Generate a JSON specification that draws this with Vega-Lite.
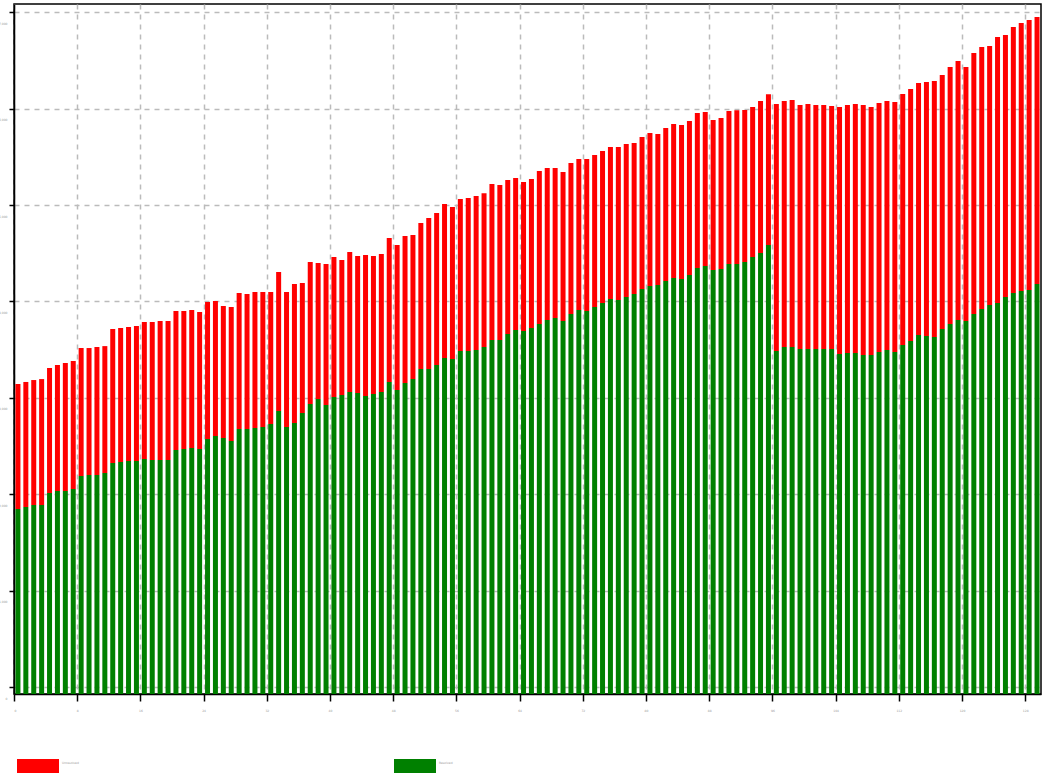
{
  "$schema": "https://vega.github.io/schema/vega-lite/v6.json",
  "autosize": "none",
  "width": 1027,
  "height": 690,
  "padding": {"left": 14, "top": 4, "right": 1, "bottom": 83},
  "background": "white",
  "config": {
    "view": {"stroke": "black", "strokeWidth": 1.5},
    "font": "DejaVu Sans"
  },
  "data": {
    "values": [
      {"i":0,"Resolved":1919,"Unresolved":1297},{"i":1,"Resolved":1940,"Unresolved":1297},{"i":2,"Resolved":1960,"Unresolved":1297},{"i":3,"Resolved":1960,"Unresolved":1307},
      {"i":4,"Resolved":2085,"Unresolved":1297},{"i":5,"Resolved":2106,"Unresolved":1307},{"i":6,"Resolved":2106,"Unresolved":1328},{"i":7,"Resolved":2126,"Unresolved":1328},
      {"i":8,"Resolved":2261,"Unresolved":1328},{"i":9,"Resolved":2272,"Unresolved":1317},{"i":10,"Resolved":2272,"Unresolved":1328},{"i":11,"Resolved":2292,"Unresolved":1317},
      {"i":12,"Resolved":2396,"Unresolved":1390},{"i":13,"Resolved":2407,"Unresolved":1390},{"i":14,"Resolved":2417,"Unresolved":1390},{"i":15,"Resolved":2417,"Unresolved":1400},
      {"i":16,"Resolved":2438,"Unresolved":1421},{"i":17,"Resolved":2427,"Unresolved":1431},{"i":18,"Resolved":2427,"Unresolved":1442},{"i":19,"Resolved":2427,"Unresolved":1442},
      {"i":20,"Resolved":2531,"Unresolved":1442},{"i":21,"Resolved":2541,"Unresolved":1431},{"i":22,"Resolved":2552,"Unresolved":1431},{"i":23,"Resolved":2541,"Unresolved":1421},
      {"i":24,"Resolved":2645,"Unresolved":1421},{"i":25,"Resolved":2676,"Unresolved":1400},{"i":26,"Resolved":2655,"Unresolved":1369},{"i":27,"Resolved":2624,"Unresolved":1390},
      {"i":28,"Resolved":2749,"Unresolved":1411},{"i":29,"Resolved":2749,"Unresolved":1400},{"i":30,"Resolved":2759,"Unresolved":1411},{"i":31,"Resolved":2770,"Unresolved":1400},
      {"i":32,"Resolved":2801,"Unresolved":1369},{"i":33,"Resolved":2936,"Unresolved":1442},{"i":34,"Resolved":2770,"Unresolved":1400},{"i":35,"Resolved":2811,"Unresolved":1442},
      {"i":36,"Resolved":2915,"Unresolved":1348},{"i":37,"Resolved":3008,"Unresolved":1473},{"i":38,"Resolved":3060,"Unresolved":1411},{"i":39,"Resolved":2998,"Unresolved":1463},
      {"i":40,"Resolved":3081,"Unresolved":1452},{"i":41,"Resolved":3102,"Unresolved":1400},{"i":42,"Resolved":3133,"Unresolved":1452},{"i":43,"Resolved":3122,"Unresolved":1421},
      {"i":44,"Resolved":3091,"Unresolved":1463},{"i":45,"Resolved":3112,"Unresolved":1431},{"i":46,"Resolved":3133,"Unresolved":1431},{"i":47,"Resolved":3236,"Unresolved":1494},
      {"i":48,"Resolved":3153,"Unresolved":1504},{"i":49,"Resolved":3226,"Unresolved":1525},{"i":50,"Resolved":3267,"Unresolved":1494},{"i":51,"Resolved":3371,"Unresolved":1514},
      {"i":52,"Resolved":3371,"Unresolved":1566},{"i":53,"Resolved":3413,"Unresolved":1577},{"i":54,"Resolved":3485,"Unresolved":1597},{"i":55,"Resolved":3475,"Unresolved":1577},
      {"i":56,"Resolved":3558,"Unresolved":1577},{"i":57,"Resolved":3558,"Unresolved":1587},{"i":58,"Resolved":3568,"Unresolved":1597},{"i":59,"Resolved":3599,"Unresolved":1597},
      {"i":60,"Resolved":3672,"Unresolved":1618},{"i":61,"Resolved":3672,"Unresolved":1608},{"i":62,"Resolved":3734,"Unresolved":1597},{"i":63,"Resolved":3776,"Unresolved":1577},
      {"i":64,"Resolved":3765,"Unresolved":1546},{"i":65,"Resolved":3797,"Unresolved":1546},{"i":66,"Resolved":3838,"Unresolved":1587},{"i":67,"Resolved":3880,"Unresolved":1577},
      {"i":68,"Resolved":3900,"Unresolved":1556},{"i":69,"Resolved":3869,"Unresolved":1546},{"i":70,"Resolved":3942,"Unresolved":1566},{"i":71,"Resolved":3983,"Unresolved":1566},
      {"i":72,"Resolved":3973,"Unresolved":1577},{"i":73,"Resolved":4014,"Unresolved":1577},{"i":74,"Resolved":4056,"Unresolved":1577},{"i":75,"Resolved":4097,"Unresolved":1577},
      {"i":76,"Resolved":4087,"Unresolved":1587},{"i":77,"Resolved":4118,"Unresolved":1587},{"i":78,"Resolved":4149,"Unresolved":1566},{"i":79,"Resolved":4201,"Unresolved":1577},
      {"i":80,"Resolved":4232,"Unresolved":1587},{"i":81,"Resolved":4243,"Unresolved":1566},{"i":82,"Resolved":4284,"Unresolved":1587},{"i":83,"Resolved":4315,"Unresolved":1597},
      {"i":84,"Resolved":4305,"Unresolved":1597},{"i":85,"Resolved":4346,"Unresolved":1597},{"i":86,"Resolved":4419,"Unresolved":1608},{"i":87,"Resolved":4440,"Unresolved":1597},
      {"i":88,"Resolved":4398,"Unresolved":1556},{"i":89,"Resolved":4409,"Unresolved":1566},{"i":90,"Resolved":4460,"Unresolved":1587},{"i":91,"Resolved":4460,"Unresolved":1597},
      {"i":92,"Resolved":4481,"Unresolved":1577},{"i":93,"Resolved":4533,"Unresolved":1556},{"i":94,"Resolved":4574,"Unresolved":1577},{"i":95,"Resolved":4657,"Unresolved":1566},
      {"i":96,"Resolved":3558,"Unresolved":2562},{"i":97,"Resolved":3599,"Unresolved":2552},{"i":98,"Resolved":3599,"Unresolved":2562},{"i":99,"Resolved":3579,"Unresolved":2531},
      {"i":100,"Resolved":3579,"Unresolved":2541},{"i":101,"Resolved":3579,"Unresolved":2531},{"i":102,"Resolved":3579,"Unresolved":2531},{"i":103,"Resolved":3579,"Unresolved":2521},
      {"i":104,"Resolved":3527,"Unresolved":2562},{"i":105,"Resolved":3537,"Unresolved":2573},{"i":106,"Resolved":3537,"Unresolved":2583},{"i":107,"Resolved":3516,"Unresolved":2593},
      {"i":108,"Resolved":3516,"Unresolved":2573},{"i":109,"Resolved":3548,"Unresolved":2583},{"i":110,"Resolved":3568,"Unresolved":2583},{"i":111,"Resolved":3548,"Unresolved":2593},
      {"i":112,"Resolved":3620,"Unresolved":2604},{"i":113,"Resolved":3662,"Unresolved":2614},{"i":114,"Resolved":3724,"Unresolved":2614},{"i":115,"Resolved":3714,"Unresolved":2635},
      {"i":116,"Resolved":3703,"Unresolved":2655},{"i":117,"Resolved":3786,"Unresolved":2635},{"i":118,"Resolved":3838,"Unresolved":2666},{"i":119,"Resolved":3880,"Unresolved":2687},
      {"i":120,"Resolved":3869,"Unresolved":2635},{"i":121,"Resolved":3942,"Unresolved":2707},{"i":122,"Resolved":3994,"Unresolved":2718},{"i":123,"Resolved":4035,"Unresolved":2687},
      {"i":124,"Resolved":4056,"Unresolved":2759},{"i":125,"Resolved":4118,"Unresolved":2718},{"i":126,"Resolved":4160,"Unresolved":2759},{"i":127,"Resolved":4180,"Unresolved":2780},
      {"i":128,"Resolved":4191,"Unresolved":2801},{"i":129,"Resolved":4253,"Unresolved":2770}
    ]
  },
  "transform": [
    {"fold": ["Unresolved", "Resolved"], "as": ["series", "count"]}
  ],
  "mark": {"type": "bar", "size": 5, "xOffset": 3.94},
  "encoding": {
    "x": {
      "field": "i",
      "type": "quantitative",
      "scale": {"domain": [0, 130], "nice": false, "zero": false, "padding": 0},
      "axis": {
        "title": null,
        "values": [0, 8, 16, 24, 32, 40, 48, 56, 64, 72, 80, 88, 96, 104, 112, 120, 128],
        "domainColor": "black",
        "domainWidth": 1.5,
        "tickColor": "black",
        "tickWidth": 1.5,
        "tickSize": 7,
        "labelFontSize": 3,
        "labelColor": "#999999",
        "labelPadding": 8,
        "grid": true,
        "gridColor": "#bbbbbb",
        "gridWidth": 1.5,
        "gridDash": [5, 5]
      }
    },
    "y": {
      "field": "count",
      "type": "quantitative",
      "stack": "zero",
      "scale": {"domain": [0, 7158], "nice": false, "zero": true},
      "axis": {
        "title": null,
        "values": [73, 1073, 2073, 3073, 4073, 5073, 6073, 7073],
        "labelExpr": "format(round(datum.value / 1000) * 1000, ',')",
        "domainColor": "black",
        "domainWidth": 1.5,
        "tickColor": "black",
        "tickWidth": 1.5,
        "tickSize": 5,
        "labelFontSize": 3,
        "labelColor": "#999999",
        "labelPadding": 2,
        "labelOffset": 11,
        "grid": true,
        "gridColor": "#bbbbbb",
        "gridWidth": 1.5,
        "gridDash": [5, 5]
      }
    },
    "color": {
      "field": "series",
      "type": "nominal",
      "scale": {"domain": ["Unresolved", "Resolved"], "range": ["#ff0000", "#008000"]},
      "legend": {
        "title": null,
        "orient": "none",
        "legendX": 3,
        "legendY": 741,
        "direction": "horizontal",
        "symbolType": "M-1,-0.333H1V0.333H-1Z",
        "symbolSize": 1764,
        "symbolStrokeWidth": 0,
        "symbolOpacity": 1,
        "labelFontSize": 3,
        "labelColor": "#999999",
        "labelBaseline": "line-bottom",
        "labelLineHeight": 34,
        "labelOffset": 3,
        "columnPadding": 315
      }
    },
    "order": {"field": "series", "sort": "ascending"}
  }
}
